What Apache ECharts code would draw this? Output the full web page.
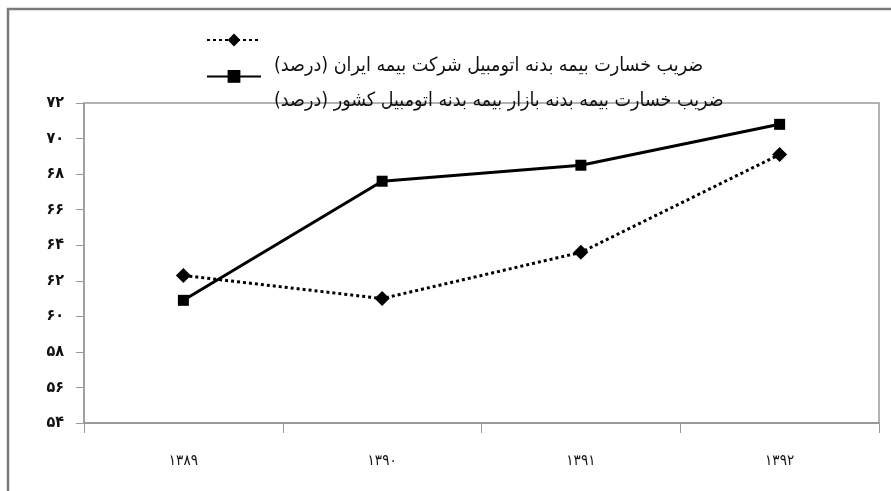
<!DOCTYPE html>
<html>
<head>
<meta charset="utf-8">
<script src="https://cdn.jsdelivr.net/npm/echarts@6/dist/echarts.min.js"></script>
<style>
  html, body { margin: 0; padding: 0; background: #ffffff; }
  #chart { width: 891px; height: 491px; }
</style>
</head>
<body>
<div id="chart"></div>
<script>
// years (shamsi), persian digits
const years = ['۱۳۸۹', '۱۳۹۰', '۱۳۹۱', '۱۳۹۲'];
// loss ratio values (%)
const iranValues = [62.3, 61.0, 63.6, 69.1];
const marketValues = [60.9, 67.6, 68.5, 70.8];
const seriesNames = [
  'ضریب خسارت بیمه بدنه اتومبیل شرکت بیمه ایران (درصد)\u200F',
  'ضریب خسارت بیمه بدنه بازار بیمه بدنه اتومبیل کشور (درصد)\u200F'
];
const yMin = 54;
const yMax = 72;
const yStep = 2;

const faDigits = '۰۱۲۳۴۵۶۷۸۹';
const toFa = (n) => String(n).replace(/\d/g, (d) => faDigits[d]);

const font = "'DejaVu Sans Condensed', 'DejaVu Sans', sans-serif";
const gray = '#9a9a9a';

const chart = echarts.init(document.getElementById('chart'));

const option = {
  backgroundColor: '#ffffff',
  animation: false,
  legend: [
    // icons only (excel puts the text lower than the keys)
    {
      data: seriesNames,
      orient: 'vertical',
      left: 206,
      top: 32,
      padding: 0,
      itemWidth: 54,
      itemHeight: 16,
      itemGap: 22,
      selectedMode: false,
      formatter: () => ''
    },
    // texts only
    {
      data: seriesNames,
      orient: 'vertical',
      left: 268,
      top: 55,
      padding: 0,
      itemWidth: 0,
      itemHeight: 0,
      itemGap: 13,
      selectedMode: false,
      itemStyle: { opacity: 0 },
      lineStyle: { opacity: 0 },
      textStyle: {
        fontFamily: font,
        fontSize: 19.5,
        color: '#111',
        lineHeight: 22,
        padding: 0
      }
    }
  ],
  grid: {
    left: 84,
    right: 12,
    top: 103,
    bottom: 68,
    show: true,
    borderColor: gray,
    borderWidth: 1.5,
    backgroundColor: '#ffffff'
  },
  xAxis: {
    type: 'category',
    data: years,
    boundaryGap: true,
    axisLine: { lineStyle: { color: gray, width: 2 } },
    axisTick: { show: true, length: 10, lineStyle: { color: gray, width: 1 } },
    axisLabel: { fontFamily: font, fontSize: 15, color: '#111', margin: 31 },
    splitLine: { show: false }
  },
  yAxis: {
    type: 'value',
    min: yMin,
    max: yMax,
    interval: yStep,
    axisLine: { show: true, lineStyle: { color: gray, width: 1.5 } },
    axisTick: { show: true, length: 8, lineStyle: { color: gray } },
    axisLabel: {
      fontFamily: font,
      fontSize: 16,
      fontWeight: 'bold',
      color: '#111',
      margin: 20,
      formatter: (v) => toFa(v)
    },
    splitLine: { show: false }
  },
  series: [
    {
      name: seriesNames[0],
      type: 'line',
      data: iranValues,
      symbol: 'diamond',
      symbolSize: 15,
      itemStyle: { color: '#000' },
      lineStyle: { color: '#000', width: 3, type: [3, 3] }
    },
    {
      name: seriesNames[1],
      type: 'line',
      data: marketValues,
      symbol: 'rect',
      symbolSize: 11,
      itemStyle: { color: '#000' },
      lineStyle: { color: '#000', width: 3, type: 'solid' }
    }
  ],
  graphic: [
    // scanned frame, top and left edges
    { type: 'line', silent: true, shape: { x1: 7, y1: 9, x2: 891, y2: 9 }, style: { stroke: '#7a7a7a', lineWidth: 2.5 } },
    { type: 'line', silent: true, shape: { x1: 8, y1: 8, x2: 8, y2: 491 }, style: { stroke: '#7a7a7a', lineWidth: 2.5 } }
  ]
};

chart.setOption(option);
</script>
</body>
</html>
